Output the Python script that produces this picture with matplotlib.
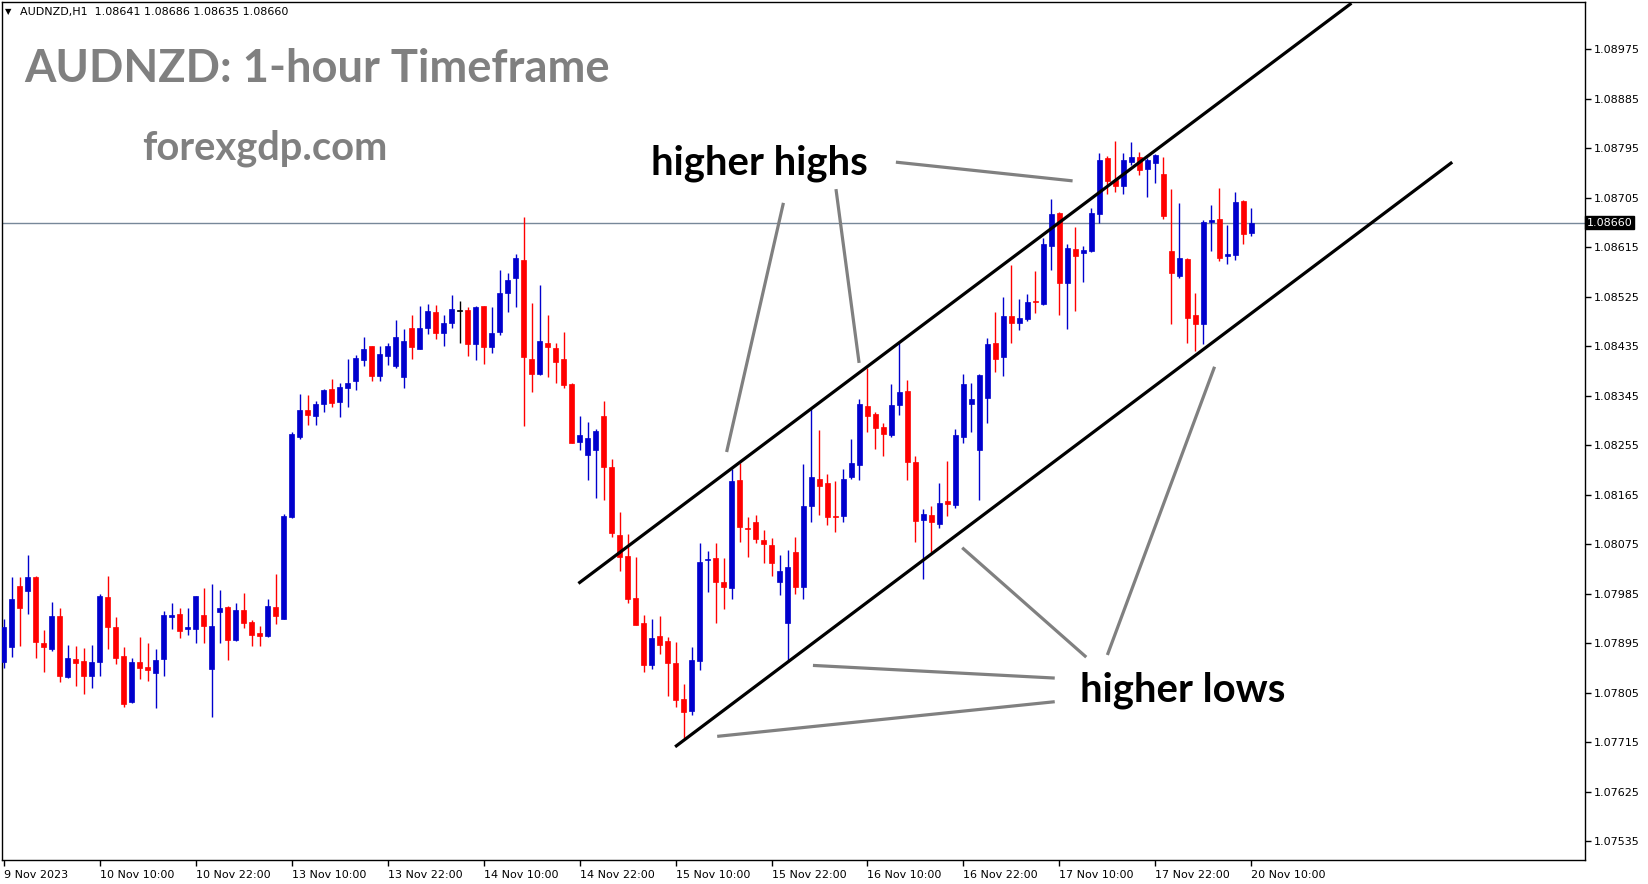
import matplotlib
matplotlib.use("Agg")
import matplotlib.pyplot as plt
import matplotlib.transforms as mtransforms
from matplotlib.patches import Rectangle

# -------------------------------
# AUDNZD H1 bars (bar 0 = 9 Nov 22:00)
# -------------------------------
opens = [
    1.07861, 1.07888, 1.07999, 1.07991, 1.08016, 1.07896, 1.07884, 1.07945, 1.07834, 1.07867,
    1.07863, 1.07835, 1.07861, 1.07979, 1.07924, 1.07872, 1.07788, 1.07861, 1.07853, 1.07842,
    1.07866, 1.07943, 1.07949, 1.07921, 1.07922, 1.07947, 1.07848, 1.07953, 1.07962, 1.07902,
    1.07955, 1.07934, 1.07914, 1.07908, 1.07961, 1.07940, 1.08124, 1.08271, 1.08319, 1.08309,
    1.08331, 1.08357, 1.08334, 1.08359, 1.08373, 1.08411, 1.08435, 1.08382, 1.08418, 1.08400,
    1.08379, 1.08468, 1.08431, 1.08468, 1.08497, 1.08460, 1.08477, 1.08500, 1.08501, 1.08439,
    1.08508, 1.08434, 1.08462, 1.08533, 1.08560, 1.08593, 1.08412, 1.08384, 1.08441, 1.08432,
    1.08412, 1.08367, 1.08262, 1.08238, 1.08247, 1.08309, 1.08216, 1.08092, 1.08054, 1.07978,
    1.07932, 1.07855, 1.07909, 1.07899, 1.07860, 1.07794, 1.07773, 1.07863, 1.08046, 1.08050,
    1.08007, 1.07995, 1.08192, 1.08105, 1.08115, 1.08083, 1.08074, 1.08007, 1.07933, 1.08061,
    1.07998, 1.08144, 1.08194, 1.08187, 1.08126, 1.08126, 1.08198, 1.08220, 1.08327, 1.08312,
    1.08289, 1.08274, 1.08329, 1.08354, 1.08225, 1.08119, 1.08129, 1.08113, 1.08154, 1.08147,
    1.08271, 1.08331, 1.08246, 1.08342, 1.08441, 1.08416, 1.08490, 1.08478, 1.08485, 1.08518,
    1.08512, 1.08618, 1.08678, 1.08551, 1.08612, 1.08604, 1.08609, 1.08676, 1.08778, 1.08738,
    1.08727, 1.08771, 1.08779, 1.08758, 1.08769, 1.08749, 1.08609, 1.08563, 1.08594, 1.08492,
    1.08475, 1.08662, 1.08666, 1.08599, 1.08602, 1.08699, 1.08641,
]
highs = [
    1.07939, 1.08016, 1.08016, 1.08056, 1.08017, 1.07919, 1.07971, 1.07960, 1.07892, 1.07890,
    1.07887, 1.07893, 1.07984, 1.08018, 1.07943, 1.07888, 1.07869, 1.07906, 1.07895, 1.07885,
    1.07954, 1.07968, 1.07960, 1.07960, 1.07982, 1.07996, 1.08003, 1.07992, 1.07963, 1.07968,
    1.07986, 1.07938, 1.07926, 1.07976, 1.08021, 1.08131, 1.08279, 1.08348, 1.08346, 1.08335,
    1.08358, 1.08376, 1.08369, 1.08413, 1.08419, 1.08452, 1.08436, 1.08436, 1.08441, 1.08483,
    1.08466, 1.08492, 1.08508, 1.08512, 1.08510, 1.08493, 1.08529, 1.08517, 1.08506, 1.08509,
    1.08509, 1.08507, 1.08574, 1.08569, 1.08603, 1.08671, 1.08514, 1.08546, 1.08493, 1.08441,
    1.08462, 1.08368, 1.08309, 1.08298, 1.08285, 1.08335, 1.08230, 1.08134, 1.08094, 1.08052,
    1.07947, 1.07939, 1.07944, 1.07907, 1.07898, 1.07821, 1.07889, 1.08078, 1.08063, 1.08078,
    1.08050, 1.08212, 1.08223, 1.08124, 1.08129, 1.08101, 1.08086, 1.08056, 1.08065, 1.08088,
    1.08221, 1.08321, 1.08283, 1.08203, 1.08190, 1.08213, 1.08267, 1.08339, 1.08396, 1.08316,
    1.08295, 1.08367, 1.08441, 1.08374, 1.08236, 1.08139, 1.08145, 1.08186, 1.08226, 1.08284,
    1.08385, 1.08369, 1.08385, 1.08451, 1.08498, 1.08524, 1.08583, 1.08521, 1.08530, 1.08572,
    1.08633, 1.08703, 1.08679, 1.08621, 1.08652, 1.08618, 1.08687, 1.08787, 1.08782, 1.08808,
    1.08787, 1.08806, 1.08789, 1.08778, 1.08784, 1.08779, 1.08721, 1.08696, 1.08596, 1.08532,
    1.08664, 1.08692, 1.08723, 1.08656, 1.08715, 1.08701, 1.08686,
]
lows = [
    1.07851, 1.07871, 1.07890, 1.07949, 1.07869, 1.07843, 1.07882, 1.07825, 1.07833, 1.07817,
    1.07803, 1.07814, 1.07836, 1.07884, 1.07858, 1.07779, 1.07787, 1.07831, 1.07827, 1.07777,
    1.07835, 1.07921, 1.07905, 1.07911, 1.07895, 1.07895, 1.07762, 1.07895, 1.07864, 1.07900,
    1.07923, 1.07891, 1.07891, 1.07906, 1.07931, 1.07939, 1.08123, 1.08266, 1.08293, 1.08293,
    1.08316, 1.08324, 1.08307, 1.08325, 1.08355, 1.08400, 1.08373, 1.08373, 1.08402, 1.08395,
    1.08360, 1.08413, 1.08430, 1.08458, 1.08449, 1.08436, 1.08468, 1.08442, 1.08418, 1.08411,
    1.08403, 1.08423, 1.08456, 1.08497, 1.08506, 1.08290, 1.08353, 1.08383, 1.08379, 1.08369,
    1.08359, 1.08259, 1.08246, 1.08192, 1.08160, 1.08155, 1.08088, 1.08027, 1.07969, 1.07928,
    1.07843, 1.07848, 1.07876, 1.07800, 1.07780, 1.07723, 1.07764, 1.07846, 1.07989, 1.07933,
    1.07958, 1.07976, 1.08080, 1.08053, 1.08077, 1.08042, 1.08018, 1.07983, 1.07862, 1.07984,
    1.07976, 1.08115, 1.08129, 1.08110, 1.08097, 1.08115, 1.08194, 1.08192, 1.08280, 1.08248,
    1.08236, 1.08271, 1.08311, 1.08193, 1.08079, 1.08013, 1.08062, 1.08104, 1.08127, 1.08142,
    1.08260, 1.08280, 1.08155, 1.08295, 1.08389, 1.08381, 1.08442, 1.08465, 1.08482, 1.08496,
    1.08510, 1.08574, 1.08492, 1.08467, 1.08499, 1.08553, 1.08606, 1.08659, 1.08712, 1.08716,
    1.08713, 1.08765, 1.08747, 1.08706, 1.08733, 1.08666, 1.08476, 1.08559, 1.08442, 1.08426,
    1.08440, 1.08609, 1.08590, 1.08584, 1.08593, 1.08621, 1.08635,
]
closes = [
    1.07924, 1.07976, 1.07960, 1.08016, 1.07897, 1.07888, 1.07945, 1.07836, 1.07869, 1.07860,
    1.07836, 1.07861, 1.07981, 1.07925, 1.07868, 1.07785, 1.07861, 1.07851, 1.07847, 1.07864,
    1.07947, 1.07947, 1.07918, 1.07924, 1.07981, 1.07926, 1.07926, 1.07960, 1.07902, 1.07955,
    1.07932, 1.07910, 1.07908, 1.07963, 1.07944, 1.08126, 1.08275, 1.08319, 1.08311, 1.08330,
    1.08356, 1.08333, 1.08362, 1.08369, 1.08414, 1.08431, 1.08382, 1.08421, 1.08436, 1.08452,
    1.08445, 1.08434, 1.08468, 1.08499, 1.08460, 1.08477, 1.08503, 1.08500, 1.08439, 1.08507,
    1.08434, 1.08460, 1.08533, 1.08555, 1.08596, 1.08416, 1.08384, 1.08444, 1.08434, 1.08407,
    1.08365, 1.08260, 1.08274, 1.08269, 1.08281, 1.08216, 1.08095, 1.08053, 1.07976, 1.07929,
    1.07855, 1.07905, 1.07893, 1.07860, 1.07792, 1.07771, 1.07865, 1.08043, 1.08048, 1.08006,
    1.07997, 1.08191, 1.08106, 1.08103, 1.08084, 1.08076, 1.08041, 1.08027, 1.08034, 1.07997,
    1.08145, 1.08198, 1.08182, 1.08124, 1.08124, 1.08194, 1.08223, 1.08330, 1.08309, 1.08286,
    1.08276, 1.08329, 1.08353, 1.08224, 1.08118, 1.08130, 1.08115, 1.08150, 1.08149, 1.08274,
    1.08367, 1.08339, 1.08383, 1.08439, 1.08413, 1.08490, 1.08478, 1.08486, 1.08515, 1.08516,
    1.08621, 1.08676, 1.08551, 1.08614, 1.08600, 1.08610, 1.08678, 1.08774, 1.08736, 1.08727,
    1.08774, 1.08779, 1.08756, 1.08774, 1.08783, 1.08673, 1.08569, 1.08596, 1.08487, 1.08476,
    1.08661, 1.08665, 1.08596, 1.08603, 1.08698, 1.08640, 1.08660,
]

date_ticks = [0, 12, 24, 36, 48, 60, 72, 84, 96, 108, 120, 132, 144, 156]
date_labels = ["9 Nov 2023", "10 Nov 10:00", "10 Nov 22:00", "13 Nov 10:00", "13 Nov 22:00",
               "14 Nov 10:00", "14 Nov 22:00", "15 Nov 10:00", "15 Nov 22:00", "16 Nov 10:00",
               "16 Nov 22:00", "17 Nov 10:00", "17 Nov 22:00", "20 Nov 10:00"]
price_ticks = [1.07535, 1.07625, 1.07715, 1.07805, 1.07895, 1.07985, 1.08075, 1.08165, 1.08255,
               1.08345, 1.08435, 1.08525, 1.08615, 1.08705, 1.08795, 1.08885, 1.08975]

# trend channel anchors (bar index, price)
upper_channel = ([71.86, 168.5], [1.08004, 1.09059])
lower_channel = ([83.95, 181.1], [1.07707, 1.08770])

# pointer lines
high_pointers = [
    ([97.49, 90.39], [1.08696, 1.08243]),
    ([104.06, 106.95], [1.08721, 1.08405]),
    ([111.55, 133.64], [1.08770, 1.08736]),
]
low_pointers = [
    ([135.35, 119.84], [1.07870, 1.08069]),
    ([137.99, 151.39], [1.07874, 1.08398]),
    ([131.41, 101.18], [1.07832, 1.07855]),
    ([131.41, 89.21], [1.07789, 1.07726]),
]

UP = "#0000cd"
DOWN = "#ff0000"

fig = plt.figure(figsize=(16.49, 8.84), dpi=100)
W, H = 1649, 884
ax = fig.add_axes([2 / W, 24 / H, 1583 / W, 858 / H])

# -------------------------------
# Candles
# -------------------------------
body_w = 0.6
for i, (o, h, l, c) in enumerate(zip(opens, highs, lows, closes)):
    if c > o:
        col = UP
    elif c < o:
        col = DOWN
    else:
        col = "black"
    ax.vlines(i, l, h, color=col, lw=1.0, zorder=2)
    bottom = min(o, c)
    height = max(abs(c - o), 0.000018)
    ax.add_patch(Rectangle((i - body_w / 2, bottom), body_w, height,
                           facecolor=col, edgecolor=col, lw=0.5, zorder=3))

# bid line
last_close = closes[-1]
ax.axhline(last_close, color="#778899", lw=1.0, zorder=1)

# channel and pointer lines
for xs, ys in (upper_channel, lower_channel):
    ax.plot(xs, ys, color="black", lw=2.3, solid_capstyle="butt", zorder=5)
for xs, ys in high_pointers + low_pointers:
    ax.plot(xs, ys, color="#808080", lw=2.3, solid_capstyle="butt", zorder=5)

ax.set_xlim(-0.2, 197.7)
ax.set_ylim(1.075012, 1.090612)

# -------------------------------
# Axes styling
# -------------------------------
for sp in ax.spines.values():
    sp.set_linewidth(1.0)
    sp.set_color("black")

ax.yaxis.tick_right()
ax.set_yticks(price_ticks)
ax.set_yticklabels([f"{p:.5f}" for p in price_ticks])
ax.set_xticks(date_ticks)
ax.set_xticklabels(date_labels, ha="left")
ax.tick_params(axis="both", direction="out", length=4, width=1.0, labelsize=8,
               colors="black", pad=2)
ax.tick_params(axis="x", pad=3)

trans = mtransforms.blended_transform_factory(ax.transAxes, ax.transData)
ax.text(1.0012, last_close, f"{last_close:.5f}", transform=trans, ha="left", va="center",
        fontsize=8, color="white", zorder=10, clip_on=False,
        bbox=dict(facecolor="black", edgecolor="black", boxstyle="square,pad=0.15"))

# header line
fig.text(5 / W, 1 - 12 / H, "\u25bc", fontsize=6, ha="left", va="center", color="black")
fig.text(20 / W, 1 - 12 / H,
         f"AUDNZD,H1  {opens[-1]:.5f} {highs[-1]:.5f} {lows[-1]:.5f} {closes[-1]:.5f}",
         fontsize=8, ha="left", va="center", color="black")

# -------------------------------
# Captions
# -------------------------------
renderer = fig.canvas.get_renderer()


def fit(txt, width_px):
    bb = txt.get_window_extent(renderer)
    txt.set_fontsize(txt.get_fontsize() * width_px / bb.width)


title = ax.text((24 - 2) / 1583, 1 - (69 - 2) / 858, "AUDNZD: 1-hour Timeframe",
                transform=ax.transAxes, fontfamily="Lato", fontweight="bold", fontsize=30,
                color="#808080", ha="left", va="center")
fit(title, 586)
site = ax.text((142 - 2) / 1583, 1 - (148 - 2) / 858, "forexgdp.com",
               transform=ax.transAxes, fontfamily="Lato", fontweight="bold", fontsize=24,
               color="#808080", ha="left", va="center")
fit(site, 245)
hh = ax.text(80.9, 1.08768, "higher highs", fontfamily="Lato", fontweight="bold",
             fontsize=24, color="black", ha="left", va="center", zorder=6)
fit(hh, 217)
hl = ax.text(134.55, 1.07809, "higher lows", fontfamily="Lato", fontweight="bold",
             fontsize=24, color="black", ha="left", va="center", zorder=6)
fit(hl, 205)

fig.savefig("out.png", dpi=100, facecolor="white")
